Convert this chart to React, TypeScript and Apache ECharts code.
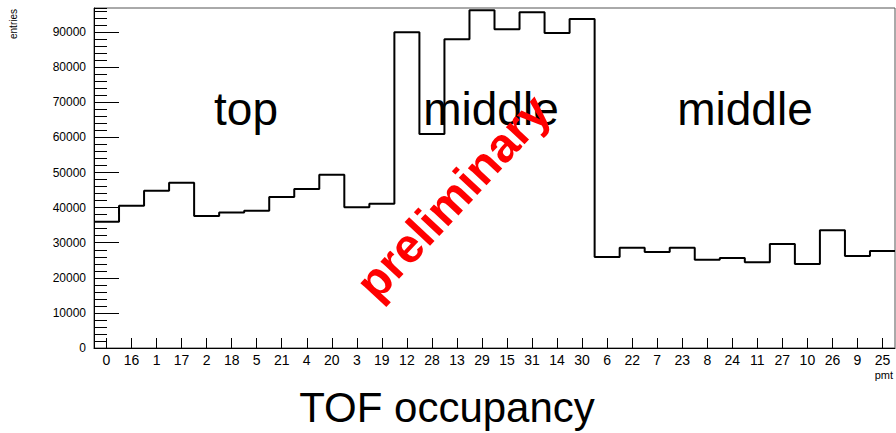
import { useEffect, useRef } from 'react';
import * as echarts from 'echarts';

// PMT channels in readout order along the x axis
const categories = [
  '0', '16', '1', '17', '2', '18', '5', '21', '4', '20', '3', '19',
  '12', '28', '13', '29', '15', '31', '14', '30',
  '6', '22', '7', '23', '8', '24', '11', '27', '10', '26', '9', '25',
];

// entries per PMT
const entries = [
  36000, 40560, 44840, 47120, 37600, 38650, 39100, 43050, 45300, 49400, 40100, 41100,
  90000, 61000, 88000, 96270, 90850, 95700, 89800, 93800,
  25940, 28600, 27370, 28600, 25180, 25650, 24420, 29650, 23950, 33540, 26230, 27650,
];

// major y ticks (labelled)
const yMajorTicks = [0, 10000, 20000, 30000, 40000, 50000, 60000, 70000, 80000, 90000];
const yMax = 96900;

const FONT = '"Liberation Sans", Arial, Helvetica, sans-serif';

export default function App() {
  const ref = useRef<HTMLDivElement>(null);

  useEffect(() => {
    const chart = echarts.init(ref.current!, null, { renderer: 'svg' });

    // histogram outline: each bin is drawn from its left edge to the next edge
    const stepData: number[][] = entries.map((v, i) => [i, v]);
    stepData.push([entries.length, entries[entries.length - 1]]);

    chart.setOption({
      animation: false,
      backgroundColor: '#ffffff',
      grid: {
        left: 94,
        right: 1,
        top: 8,
        bottom: 85,
        show: true,
        borderColor: '#555',
        borderWidth: 1,
        backgroundColor: 'transparent',
        containLabel: false,
        outerBoundsMode: 'none',
      },
      xAxis: [
        {
          type: 'category',
          data: categories,
          boundaryGap: true,
          position: 'bottom',
          axisLine: { show: true, lineStyle: { color: '#000', width: 1 } },
          axisTick: { show: true, inside: true, length: 10, alignWithLabel: true, lineStyle: { color: '#000' } },
          axisLabel: { interval: 0, color: '#000', fontSize: 14, fontFamily: FONT, margin: 5 },
          splitLine: { show: false },
        },
        {
          type: 'value',
          min: 0,
          max: entries.length,
          show: false,
        },
      ],
      yAxis: [
        {
          type: 'value',
          min: 0,
          max: yMax,
          interval: 10000,
          axisLine: { show: true, lineStyle: { color: '#000', width: 1 } },
          axisTick: { show: true, inside: true, length: 25, customValues: yMajorTicks, lineStyle: { color: '#000' } },
          axisLabel: {
            customValues: yMajorTicks,
            color: '#000',
            fontSize: 12,
            fontFamily: FONT,
            margin: 8,
            formatter: (v: number) => String(v),
          },
          splitLine: { show: false },
        },
        {
          // minor ticks
          type: 'value',
          min: 0,
          max: yMax,
          interval: 2000,
          position: 'left',
          offset: 0,
          axisLine: { show: false },
          axisTick: { show: true, inside: true, length: 13, lineStyle: { color: '#000' } },
          axisLabel: { show: false },
          splitLine: { show: false },
        },
      ],
      series: [
        {
          type: 'line',
          xAxisIndex: 1,
          yAxisIndex: 0,
          step: 'end',
          data: stepData,
          symbol: 'none',
          lineStyle: { color: '#000', width: 2 },
          z: 3,
        },
      ],
      graphic: [
        {
          type: 'text',
          x: 13,
          y: 9,
          rotation: Math.PI / 2,
          style: { text: 'entries', fill: '#000', fontSize: 10, fontFamily: FONT, align: 'right', verticalAlign: 'middle' },
        },
        {
          type: 'text',
          x: 893,
          y: 375,
          style: { text: 'pmt', fill: '#000', fontSize: 11, fontFamily: FONT, align: 'right', verticalAlign: 'middle' },
        },
        {
          type: 'text',
          x: 246,
          y: 109,
          z: 10,
          style: { text: 'top', fill: '#000', fontSize: 46, fontFamily: FONT, align: 'center', verticalAlign: 'middle' },
        },
        {
          type: 'text',
          x: 491,
          y: 109,
          z: 10,
          style: { text: 'middle', fill: '#000', fontSize: 46, fontFamily: FONT, align: 'center', verticalAlign: 'middle' },
        },
        {
          type: 'text',
          x: 745,
          y: 109,
          z: 10,
          style: { text: 'middle', fill: '#000', fontSize: 46, fontFamily: FONT, align: 'center', verticalAlign: 'middle' },
        },
        {
          type: 'text',
          x: 453,
          y: 197,
          z: 20,
          rotation: (47 * Math.PI) / 180,
          style: {
            text: 'preliminary',
            fill: '#ff0000',
            fontSize: 48,
            fontWeight: 'bold',
            fontFamily: FONT,
            align: 'center',
            verticalAlign: 'middle',
          },
        },
        {
          type: 'text',
          x: 447,
          y: 407,
          style: { text: 'TOF occupancy', fill: '#000', fontSize: 42, fontFamily: FONT, align: 'center', verticalAlign: 'middle' },
        },
      ],
    });

    return () => chart.dispose();
  }, []);

  return (
    <div
      ref={ref}
      style={{ position: 'absolute', left: 0, top: 0, width: 896, height: 433, background: '#fff' }}
    />
  );
}
